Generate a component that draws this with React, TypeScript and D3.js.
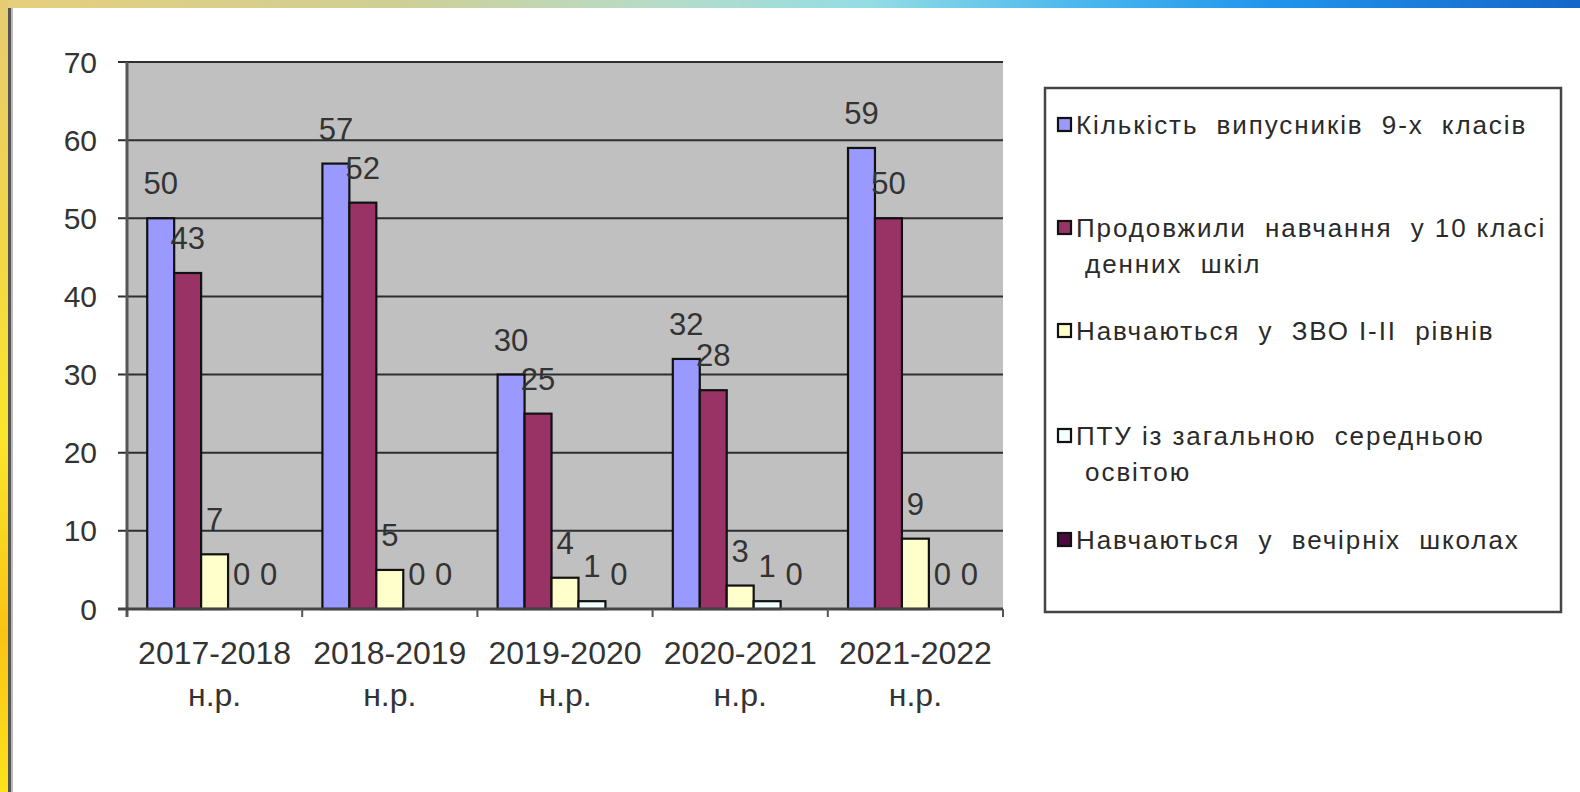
import React from "react";
import * as d3 from "d3";

const W = 1580;
const H = 792;

const years = ["2017-2018", "2018-2019", "2019-2020", "2020-2021", "2021-2022"];
const yearSuffix = "н.р.";

const seriesNames = ["s1", "s2", "s3", "s4", "s5"];
const seriesColors = ["#9999FF", "#993366", "#FFFFCC", "#F2FFFF", "#4a0a40"];

const graduates9 = [50, 57, 30, 32, 59];
const continued10 = [43, 52, 25, 28, 50];
const colleges = [7, 5, 4, 3, 9];
const vocational = [0, 0, 1, 1, 0];
const evening = [0, 0, 0, 0, 0];
const seriesValues = [graduates9, continued10, colleges, vocational, evening];

const legendLines = [
  ["Кількість  випусників  9-х  класів"],
  ["Продовжили  навчання  у 10 класі", " денних  шкіл"],
  ["Навчаються  у  ЗВО І-ІІ  рівнів"],
  ["ПТУ із загальною  середньою", " освітою"],
  ["Навчаються  у  вечірніх  школах"],
];
const legendY = [125, 228, 331, 436, 540];

const yTicks = [0, 10, 20, 30, 40, 50, 60, 70];

const FONT = "'Liberation Sans', Arial, sans-serif";

export default function App() {
  const plot = { left: 127, right: 1003, top: 62, bottom: 609 };

  const x0 = d3.scaleBand<string>().domain(years).range([plot.left, plot.right]);
  const x1 = d3
    .scaleBand<string>()
    .domain(seriesNames)
    .range([0, x0.bandwidth()])
    .paddingInner(0)
    .paddingOuter(0.75);
  const y = d3.scaleLinear().domain([0, 70]).range([plot.bottom, plot.top]);

  const bars = years.flatMap((yr, i) =>
    seriesNames.map((s, j) => ({
      key: `${yr}-${s}`,
      x: (x0(yr) ?? 0) + (x1(s) ?? 0),
      v: seriesValues[j][i],
      color: seriesColors[j],
    }))
  );

  return (
    <svg
      width={W}
      height={H}
      style={{ position: "absolute", left: 0, top: 0, background: "#fff" }}
      fontFamily={FONT}
    >
      <defs>
        <linearGradient id="topBar" x1="0" x2="1" y1="0" y2="0">
          <stop offset="0" stopColor="#e6cf7c" />
          <stop offset="0.25" stopColor="#cfcf94" />
          <stop offset="0.42" stopColor="#b6dcc9" />
          <stop offset="0.55" stopColor="#93dde4" />
          <stop offset="0.68" stopColor="#4cb8ee" />
          <stop offset="0.8" stopColor="#2196ec" />
          <stop offset="1" stopColor="#1466c8" />
        </linearGradient>
        <linearGradient id="leftBar" x1="0" x2="0" y1="0" y2="1">
          <stop offset="0" stopColor="#e6cc72" />
          <stop offset="0.3" stopColor="#f2d648" />
          <stop offset="0.55" stopColor="#fbe62c" />
          <stop offset="0.8" stopColor="#f8c414" />
          <stop offset="1" stopColor="#fde21c" />
        </linearGradient>
      </defs>

      {/* frame */}
      <rect x={0} y={0} width={W} height={8} fill="url(#topBar)" />
      <rect x={0} y={0} width={8} height={H} fill="url(#leftBar)" />
      <rect x={8} y={8} width={3} height={H - 8} fill="#555" />
      <rect x={11} y={8} width={2} height={H - 8} fill="#bbb" />

      {/* plot area */}
      <rect
        x={plot.left}
        y={plot.top}
        width={plot.right - plot.left}
        height={plot.bottom - plot.top}
        fill="#C0C0C0"
      />
      {yTicks.map((t) => (
        <g key={t}>
          <line
            x1={plot.left - 9}
            x2={t === 0 ? plot.left : plot.right}
            y1={y(t)}
            y2={y(t)}
            stroke="#2e2e2e"
            strokeWidth={2}
          />
          <text
            x={97}
            y={y(t)}
            dy="0.35em"
            textAnchor="end"
            fontSize={30}
            fill="#333"
          >
            {t}
          </text>
        </g>
      ))}

      {/* bars */}
      {bars.map((b) => (
        <rect
          key={b.key}
          x={b.x}
          y={y(b.v)}
          width={x1.bandwidth()}
          height={y(0) - y(b.v)}
          fill={b.color}
          stroke="#111"
          strokeWidth={2.2}
        />
      ))}
      {bars.map((b) => (
        <text
          key={"l" + b.key}
          x={b.x + x1.bandwidth() / 2}
          y={y(b.v) - 24}
          textAnchor="middle"
          fontSize={31}
          fill="#333"
        >
          {b.v}
        </text>
      ))}

      {/* axes */}
      <line x1={plot.left} x2={plot.left} y1={plot.top} y2={plot.bottom + 8} stroke="#555" strokeWidth={3} />
      <line x1={plot.left - 9} x2={plot.right} y1={plot.bottom} y2={plot.bottom} stroke="#444" strokeWidth={3} />
      {years.map((yr) => (
        <line
          key={"t" + yr}
          x1={(x0(yr) ?? 0) + x0.bandwidth()}
          x2={(x0(yr) ?? 0) + x0.bandwidth()}
          y1={plot.bottom}
          y2={plot.bottom + 8}
          stroke="#555"
          strokeWidth={2}
        />
      ))}
      {years.map((yr) => (
        <text
          key={"x" + yr}
          x={(x0(yr) ?? 0) + x0.bandwidth() / 2}
          textAnchor="middle"
          fontSize={32}
          fill="#333"
        >
          <tspan x={(x0(yr) ?? 0) + x0.bandwidth() / 2} y={664}>
            {yr}
          </tspan>
          <tspan x={(x0(yr) ?? 0) + x0.bandwidth() / 2} y={706}>
            {yearSuffix}
          </tspan>
        </text>
      ))}

      {/* legend */}
      <rect x={1045} y={88} width={516} height={524} fill="#fff" stroke="#444" strokeWidth={2.5} />
      {legendLines.map((lines, i) => (
        <g key={"lg" + i}>
          <rect
            x={1058}
            y={legendY[i] - 7}
            width={13}
            height={13}
            fill={seriesColors[i]}
            stroke="#111"
            strokeWidth={2.2}
          />
          {lines.map((ln, k) => (
            <text
              key={k}
              x={1076}
              y={legendY[i] + k * 36}
              dy="0.35em"
              fontSize={26}
              letterSpacing={1.9}
              fill="#2a2a2a"
              style={{ whiteSpace: "pre" }}
            >
              {ln}
            </text>
          ))}
        </g>
      ))}
    </svg>
  );
}
